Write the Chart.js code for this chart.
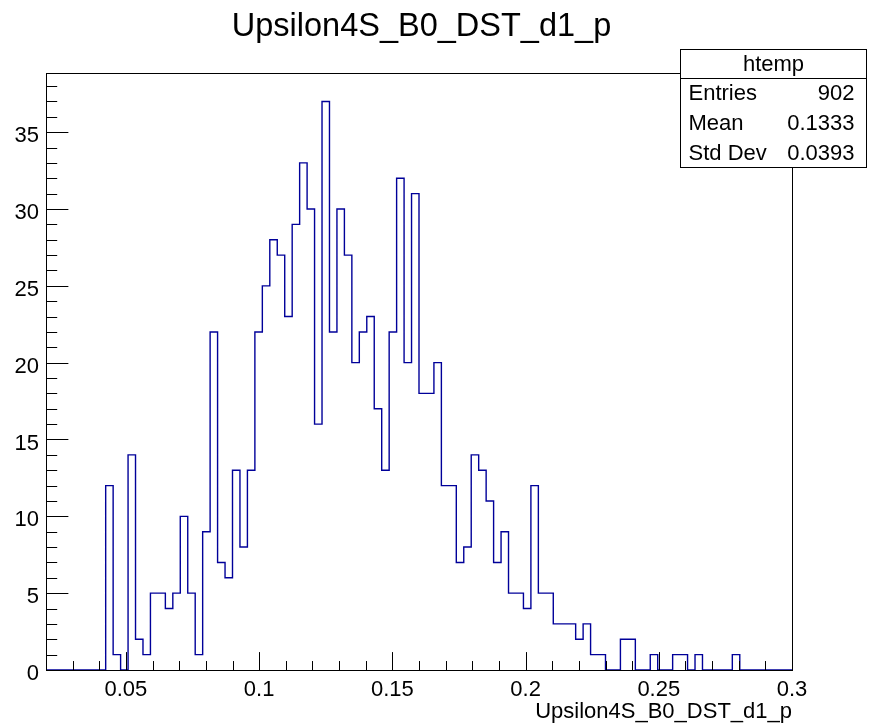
<!DOCTYPE html>
<html>
<head>
<meta charset="utf-8">
<script src="https://cdn.jsdelivr.net/npm/chart.js@4/dist/chart.umd.min.js"></script>
<style>
  html, body { margin: 0; padding: 0; background: #ffffff; }
  #c { display: block; }
</style>
</head>
<body>
<canvas id="c" width="870" height="725"></canvas>
<script>
// ---- Data ----
const chartTitle = "Upsilon4S_B0_DST_d1_p";
const xAxisTitle = "Upsilon4S_B0_DST_d1_p";
const xMin = 0.02;
const xMax = 0.30;
const yMax = 38.85;
const binCounts = [
  0, 0, 0, 0, 0, 0, 0, 0, 12, 1,
  0, 14, 2, 1, 5, 5, 4, 5, 10, 5,
  1, 9, 22, 7, 6, 13, 8, 13, 22, 25,
  28, 27, 23, 29, 33, 30, 16, 37, 22, 30,
  27, 20, 22, 23, 17, 13, 22, 32, 20, 31,
  18, 18, 20, 12, 12, 7, 8, 14, 13, 11,
  7, 9, 5, 5, 4, 12, 5, 5, 3, 3,
  3, 2, 3, 1, 1, 0, 0, 2, 2, 0,
  0, 1, 0, 0, 1, 1, 0, 1, 0, 0,
  0, 0, 1, 0, 0, 0, 0, 0, 0, 0
];
const xTickValues = [0.05, 0.1, 0.15, 0.2, 0.25, 0.3];
const xTickLabels = ["0.05", "0.1", "0.15", "0.2", "0.25", "0.3"];
const xMinorStep = 0.01;
const yTickValues = [0, 5, 10, 15, 20, 25, 30, 35];
const yTickLabels = ["0", "5", "10", "15", "20", "25", "30", "35"];
const yMinorStep = 1;
const statsTitle = "htemp";
const statsLabels = ["Entries", "Mean", "Std Dev"];
const statsValues = ["902", "0.1333", "0.0393"];

// ---- Build histogram outline points: one point at each bin's right edge ----
const binWidth = (xMax - xMin) / binCounts.length;
const histPoints = [{ x: xMin, y: 0 }];
binCounts.forEach((v, i) => histPoints.push({ x: xMin + (i + 1) * binWidth, y: v }));

const FONT = "'Liberation Sans', Arial, Helvetica, sans-serif";
Chart.defaults.color = '#000000';
Chart.defaults.font.family = FONT;

const rootFramePlugin = {
  id: 'rootFrame',
  afterDraw(chart) {
    const ctx = chart.ctx;
    const a = chart.chartArea;
    const xs = chart.scales.x, ys = chart.scales.y;
    ctx.save();
    ctx.strokeStyle = '#000000';
    ctx.lineWidth = 1;
    // frame
    ctx.strokeRect(Math.round(a.left) + 0.5, Math.round(a.top) + 0.5,
                   Math.round(a.right - a.left), Math.round(a.bottom - a.top));
    // x ticks (inward)
    const h = a.bottom - a.top;
    const xMajorLen = 0.03 * h, xMinorLen = 0.015 * h;
    ctx.beginPath();
    const nMinorX = Math.round(xMax / xMinorStep);
    for (let k = 0; k <= nMinorX; k++) {
      const v = k * xMinorStep;
      if (v < xMin - 1e-9 || v > xMax + 1e-9) continue;
      const isMajor = Math.abs(v / 0.05 - Math.round(v / 0.05)) < 1e-6;
      const px = Math.round(xs.getPixelForValue(v)) + 0.5;
      ctx.moveTo(px, a.bottom);
      ctx.lineTo(px, a.bottom - (isMajor ? xMajorLen : xMinorLen));
    }
    // y ticks (inward)
    const w = a.right - a.left;
    const yMajorLen = 0.03 * w, yMinorLen = 0.015 * w;
    for (let v = 0; v <= yMax + 1e-9; v += yMinorStep) {
      const isMajor = (v % 5) === 0;
      const py = Math.round(ys.getPixelForValue(v)) + 0.5;
      ctx.moveTo(a.left, py);
      ctx.lineTo(a.left + (isMajor ? yMajorLen : yMinorLen), py);
    }
    ctx.stroke();

    // stats box
    const bx = 680.5, by = 49.5, bw = 186, bh = 118;
    const titleH = 29;
    ctx.fillStyle = '#ffffff';
    ctx.fillRect(bx, by, bw, bh);
    ctx.strokeRect(bx, by, bw, bh);
    ctx.beginPath();
    ctx.moveTo(bx, by + titleH);
    ctx.lineTo(bx + bw, by + titleH);
    ctx.stroke();
    ctx.fillStyle = '#000000';
    ctx.font = '22px ' + FONT;
    ctx.textBaseline = 'middle';
    ctx.textAlign = 'center';
    ctx.fillText(statsTitle, bx + bw / 2, by + titleH / 2 + 1);
    const rowH = (bh - titleH) / statsLabels.length;
    for (let i = 0; i < statsLabels.length; i++) {
      const cy = by + titleH + rowH * (i + 0.5) + 1;
      ctx.textAlign = 'left';
      ctx.fillText(statsLabels[i], bx + 8, cy);
      ctx.textAlign = 'right';
      ctx.fillText(statsValues[i], bx + bw - 12, cy);
    }
    ctx.restore();
  }
};

new Chart(document.getElementById('c'), {
  type: 'line',
  data: {
    datasets: [{
      label: 'htemp',
      data: histPoints,
      stepped: 'after',
      borderColor: '#000099',
      borderWidth: 1.4,
      pointRadius: 0,
      fill: false,
      tension: 0
    }]
  },
  options: {
    responsive: false,
    animation: false,
    devicePixelRatio: 1,
    layout: { padding: { left: 0, right: 27, top: 0, bottom: 0 } },
    plugins: {
      legend: { display: false },
      tooltip: { enabled: false },
      title: {
        display: true,
        text: chartTitle,
        color: '#000000',
        font: { size: 32.5, weight: 'normal', family: FONT },
        padding: { top: 8, bottom: 26 }
      }
    },
    scales: {
      x: {
        type: 'linear',
        min: xMin,
        max: xMax,
        grid: { display: false, drawTicks: false },
        border: { display: false },
        afterBuildTicks(scale) { scale.ticks = xTickValues.map(v => ({ value: v })); },
        afterFit(scale) { scale.height = 55; },
        ticks: {
          padding: 7,
          maxRotation: 0,
          autoSkip: false,
          color: '#000000',
          font: { size: 22, family: FONT },
          callback(value) {
            const i = xTickValues.findIndex(t => Math.abs(t - value) < 1e-9);
            return i >= 0 ? xTickLabels[i] : '';
          }
        },
        title: {
          display: true,
          text: xAxisTitle,
          align: 'end',
          color: '#000000',
          font: { size: 22, family: FONT },
          padding: { top: 5, bottom: 0 }
        }
      },
      y: {
        type: 'linear',
        min: 0,
        max: yMax,
        grid: { display: false, drawTicks: false },
        border: { display: false },
        afterBuildTicks(scale) { scale.ticks = yTickValues.map(v => ({ value: v })); },
        afterFit(scale) { scale.width = 46; },
        ticks: {
          padding: 7,
          labelOffset: 4,
          autoSkip: false,
          color: '#000000',
          font: { size: 22, family: FONT },
          callback(value) {
            const i = yTickValues.indexOf(value);
            return i >= 0 ? yTickLabels[i] : '';
          }
        }
      },
      ySpacer: {
        type: 'linear',
        position: 'right',
        display: true,
        min: 0,
        max: 1,
        grid: { display: false, drawTicks: false },
        border: { display: false },
        ticks: { display: false },
        afterFit(scale) { scale.width = 51; }
      }
    }
  },
  plugins: [rootFramePlugin]
});
</script>
</body>
</html>
